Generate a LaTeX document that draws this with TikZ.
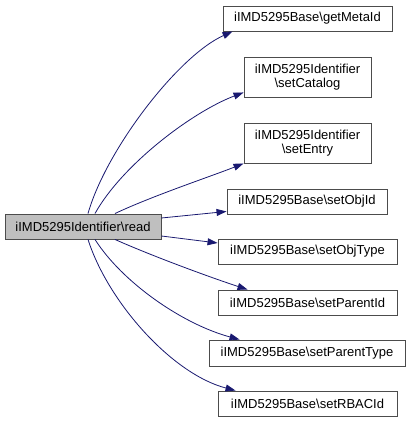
\documentclass[tikz,border=0pt]{standalone}
\usepackage{fontspec}
\setmainfont{Liberation Sans}
\usetikzlibrary{arrows.meta,calc}

\definecolor{edgeblue}{HTML}{191970}

\begin{document}
\begin{tikzpicture}[x=0.75pt, y=-0.75pt]
\tikzstyle{every node} = [draw = black!70, line width = 0.7pt, fill = white, inner sep = 0pt,
  font = \fontsize{9.75pt}{11pt}\selectfont, align = center]
\tikzstyle{call} = [draw = edgeblue, line width = 0.6pt, -{Triangle[length = 7.5pt, width = 5.2pt]}]

\useasboundingbox (0, 0) rectangle (411, 423);

\draw (83, 226.5) node[fill = black!25, minimum width = 117pt, minimum height = 18.75pt] (0) {iIMD5295Identifier\textbackslash read};
\draw (307.5, 18.5) node[minimum width = 126.75pt, minimum height = 18.75pt] (1) {iIMD5295Base\textbackslash getMetaId};
\draw (307.5, 77) node[minimum width = 95.25pt, minimum height = 30pt] (2) {iIMD5295Identifier\\\textbackslash setCatalog};
\draw (307.5, 143) node[minimum width = 95.25pt, minimum height = 30pt] (3) {iIMD5295Identifier\\\textbackslash setEntry};
\draw (307, 201.5) node[minimum width = 120pt, minimum height = 18.75pt] (4) {iIMD5295Base\textbackslash setObjId};
\draw (307.5, 251.5) node[minimum width = 134.25pt, minimum height = 18.75pt] (5) {iIMD5295Base\textbackslash setObjType};
\draw (307.5, 302.5) node[minimum width = 134.25pt, minimum height = 18.75pt] (6) {iIMD5295Base\textbackslash setParentId};
\draw (307, 353) node[minimum width = 147pt, minimum height = 19.5pt] (7) {iIMD5295Base\textbackslash setParentType};
\draw (307.5, 403.5) node[minimum width = 134.25pt, minimum height = 18.75pt] (8) {iIMD5295Base\textbackslash setRBACId};

% upper calls
\draw[call] ($(0.north)+(5, 0)$) .. controls (106, 150) and (178, 56) .. ($(1.south west)+(10, 0)$);
\draw[call] ($(0.north)+(12, 0)$) .. controls (122, 165) and (192, 112) .. ($(2.south west)+(0, -5)$);
\draw[call] ($(0.north)+(32, 0)$) .. controls (152, 196) and (212, 176) .. (3.south west);
\draw[call] ($(0.east)+(0, -8.5)$) -- ($(4.south west)+(0, -3)$);
% lower calls
\draw[call] ($(0.east)+(0, 9.5)$) -- ($(5.west)+(0, -8.5)$);
\draw[call] ($(0.south)+(32, 0)$) .. controls (152, 256) and (212, 278) .. ($(6.north west)+(30, 0)$);
\draw[call] ($(0.south)+(12, 0)$) .. controls (122, 282) and (182, 324) .. ($(7.north west)+(31, 0)$);
\draw[call] ($(0.south)+(5, 0)$) .. controls (108, 302) and (172, 374) .. ($(8.north west)+(18, 0)$);
\end{tikzpicture}
\end{document}
